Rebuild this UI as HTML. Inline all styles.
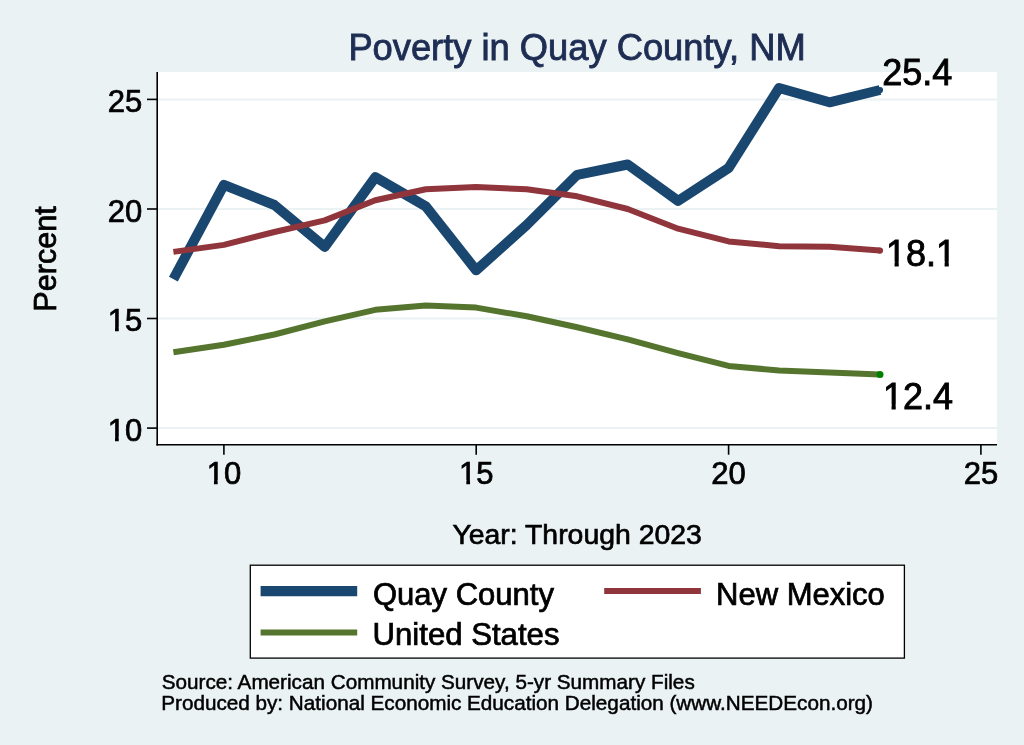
<!DOCTYPE html>
<html lang="en">
<head>
<meta charset="utf-8">
<title>Poverty in Quay County, NM</title>
<style>html,body{margin:0;padding:0;background:#eaf2f3;}svg{display:block;}text{stroke:#000;stroke-width:0.024em;}</style>
</head>
<body>
<svg width="1024" height="745" viewBox="0 0 1024 745" font-family="'Liberation Sans', Arial, Helvetica, sans-serif">
<rect width="1024" height="745" fill="#eaf2f3"/>
<rect x="157" y="72" width="840" height="373" fill="#ffffff"/>
<line x1="158" x2="997" y1="428.1" y2="428.1" stroke="#eaf2f3" stroke-width="2"/>
<line x1="158" x2="997" y1="318.5" y2="318.5" stroke="#eaf2f3" stroke-width="2"/>
<line x1="158" x2="997" y1="209.0" y2="209.0" stroke="#eaf2f3" stroke-width="2"/>
<line x1="158" x2="997" y1="99.4" y2="99.4" stroke="#eaf2f3" stroke-width="2"/>
<polyline points="173.4,279.1 223.9,184.9 274.4,205.0 324.8,246.9 375.3,177.2 425.8,206.3 476.2,270.3 526.7,225.0 577.2,174.8 627.7,164.5 678.1,200.9 728.6,168.0 779.1,88.0 829.5,102.3 880.0,90.0" fill="none" stroke="#1a476f" stroke-width="10" stroke-linejoin="round"/>
<polyline points="173.4,251.9 223.9,244.9 274.4,232.0 324.8,220.4 375.3,200.2 425.8,189.2 476.2,187.1 526.7,189.2 577.2,196.3 627.7,209.0 678.1,228.7 728.6,241.4 779.1,246.2 829.5,246.7 880.0,250.6" fill="none" stroke="#90353b" stroke-width="6" stroke-linejoin="round"/>
<polyline points="173.4,352.3 223.9,344.8 274.4,334.5 324.8,321.4 375.3,309.8 425.8,305.4 476.2,307.6 526.7,316.3 577.2,327.3 627.7,339.4 678.1,353.2 728.6,365.9 779.1,370.5 829.5,372.4 880.0,374.4" fill="none" stroke="#55752f" stroke-width="6" stroke-linejoin="round"/>
<circle cx="880.0" cy="90.0" r="3.1" fill="#1a476f"/>
<circle cx="880.0" cy="250.6" r="3.1" fill="#90353b"/>
<circle cx="880.0" cy="374.4" r="3.5" fill="#008000"/>
<line x1="157.2" x2="157.2" y1="72" y2="445.5" stroke="#000" stroke-width="1.6"/>
<line x1="156.4" x2="997" y1="444.7" y2="444.7" stroke="#000" stroke-width="1.6"/>
<line x1="147" x2="157" y1="428.1" y2="428.1" stroke="#000" stroke-width="1.6"/>
<text x="142.2" y="441.0" font-size="31" text-anchor="end">10</text>
<rect x="108.47" y="436.78" width="6.54" height="6.02" fill="#eaf2f3"/>
<rect x="118.75" y="436.78" width="6.29" height="6.02" fill="#eaf2f3"/>
<line x1="147" x2="157" y1="318.5" y2="318.5" stroke="#000" stroke-width="1.6"/>
<text x="142.2" y="331.4" font-size="31" text-anchor="end">15</text>
<rect x="108.47" y="327.22" width="6.54" height="6.02" fill="#eaf2f3"/>
<rect x="118.75" y="327.22" width="6.29" height="6.02" fill="#eaf2f3"/>
<line x1="147" x2="157" y1="209.0" y2="209.0" stroke="#000" stroke-width="1.6"/>
<text x="142.2" y="221.9" font-size="31" text-anchor="end">20</text>
<line x1="147" x2="157" y1="99.4" y2="99.4" stroke="#000" stroke-width="1.6"/>
<text x="142.2" y="112.3" font-size="31" text-anchor="end">25</text>
<line x1="223.9" x2="223.9" y1="444.7" y2="454.7" stroke="#000" stroke-width="1.6"/>
<text x="223.9" y="484.2" font-size="31" text-anchor="middle">10</text>
<rect x="207.42" y="479.98" width="6.54" height="6.02" fill="#eaf2f3"/>
<rect x="217.69" y="479.98" width="6.29" height="6.02" fill="#eaf2f3"/>
<line x1="476.2" x2="476.2" y1="444.7" y2="454.7" stroke="#000" stroke-width="1.6"/>
<text x="476.2" y="484.2" font-size="31" text-anchor="middle">15</text>
<rect x="459.77" y="479.98" width="6.54" height="6.02" fill="#eaf2f3"/>
<rect x="470.04" y="479.98" width="6.29" height="6.02" fill="#eaf2f3"/>
<line x1="728.6" x2="728.6" y1="444.7" y2="454.7" stroke="#000" stroke-width="1.6"/>
<text x="728.6" y="484.2" font-size="31" text-anchor="middle">20</text>
<line x1="980.9" x2="980.9" y1="444.7" y2="454.7" stroke="#000" stroke-width="1.6"/>
<text x="980.9" y="484.2" font-size="31" text-anchor="middle">25</text>
<text x="577" y="59.6" font-size="36.3" text-anchor="middle" fill="#1e2d53" style="stroke:#1e2d53;stroke-width:0.024em">Poverty in Quay County, NM</text>
<text x="577.1" y="543.8" font-size="28.4" text-anchor="middle">Year: Through 2023</text>
<text transform="translate(56.1 259) rotate(-90)" font-size="30.6" text-anchor="middle">Percent</text>
<text x="882.3" y="85" font-size="36">25.4</text>
<text x="886" y="266.1" font-size="36">18.1</text>
<rect x="887.14" y="261.51" width="7.42" height="6.39" fill="#fff"/>
<rect x="898.73" y="261.51" width="7.13" height="6.39" fill="#fff"/>
<rect x="937.18" y="261.51" width="7.42" height="6.39" fill="#fff"/>
<rect x="948.78" y="261.51" width="7.13" height="6.39" fill="#fff"/>
<text x="883.0" y="409.1" font-size="36">12.4</text>
<rect x="884.14" y="404.51" width="7.42" height="6.39" fill="#fff"/>
<rect x="895.73" y="404.51" width="7.13" height="6.39" fill="#fff"/>
<rect x="250.3" y="565.2" width="654.1" height="92.9" fill="#fff" stroke="#000" stroke-width="1.3"/>
<line x1="260.6" x2="357.2" y1="591.1" y2="591.1" stroke="#1a476f" stroke-width="10.3"/>
<line x1="604.2" x2="700.9" y1="590.9" y2="590.9" stroke="#90353b" stroke-width="6"/>
<line x1="260.6" x2="357.2" y1="632.4" y2="632.4" stroke="#55752f" stroke-width="6"/>
<text x="373" y="604.8" font-size="31">Quay County</text>
<text x="716.0" y="604.6" font-size="31">New Mexico</text>
<text x="372.5" y="645" font-size="31.15">United States</text>
<text x="161.7" y="688.9" font-size="20.7">Source: American Community Survey, 5-yr Summary Files</text>
<text x="161.2" y="709.5" font-size="20.7">Produced by: National Economic Education Delegation (www.NEEDEcon.org)</text>
</svg>
</body>
</html>
